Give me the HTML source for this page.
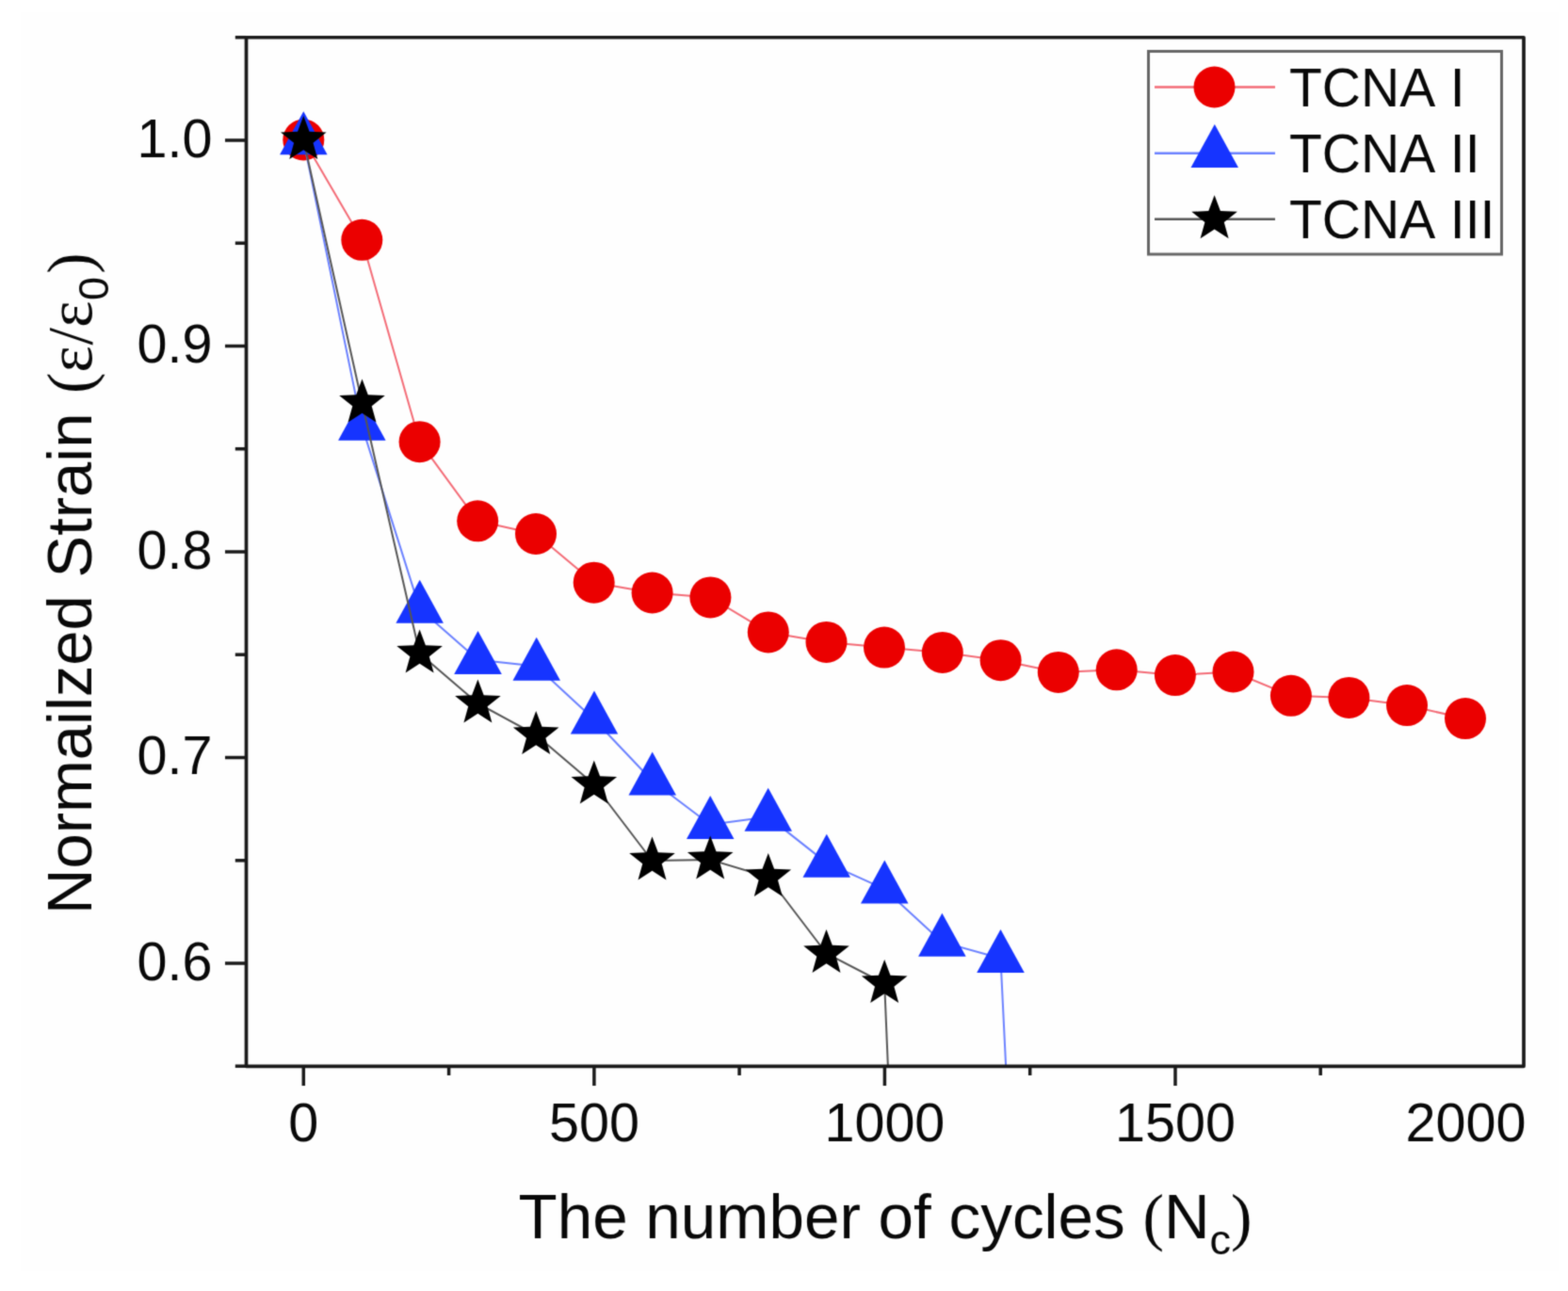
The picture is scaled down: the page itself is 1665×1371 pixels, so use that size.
<!DOCTYPE html>
<html><head><meta charset="utf-8"><title>Normalized strain vs number of cycles</title>
<style>html,body{margin:0;padding:0;background:#fff;}svg{display:block;}</style>
</head><body>
<svg width="1665" height="1371" viewBox="0 0 1665 1371">
<defs><filter id="sb" x="0" y="0" width="1" height="1" color-interpolation-filters="sRGB"><feConvolveMatrix order="3" kernelMatrix="0.0278 0.1111 0.0278 0.1111 0.4444 0.1111 0.0278 0.1111 0.0278" edgeMode="duplicate" preserveAlpha="true"/></filter></defs>
<g filter="url(#sb)">
<rect x="0" y="0" width="1665" height="1371" fill="#fff"/>
<rect x="22" y="13" width="1633" height="1337" fill="#fefefe"/>
<defs><clipPath id="pc"><rect x="261.5" y="39.75" width="1356.5" height="1092.55"/></clipPath></defs>
<polyline clip-path="url(#pc)" fill="none" stroke-linejoin="round" points="322.3,148.5 384.3,254.8 445.6,469.2 507.2,553.3 569.0,567.0 630.7,618.7 692.6,629.5 754.4,634.4 815.8,671.4 877.5,681.9 939.0,687.6 1000.8,692.9 1062.6,701.2 1123.8,713.9 1185.7,711.3 1247.9,717.1 1309.5,713.5 1370.9,738.8 1432.4,740.9 1494.0,749.1 1556.0,763.1" stroke="#f36a75" stroke-width="2"/>
<g fill="#eb0000"><circle cx="322.3" cy="148.5" r="22"/><circle cx="384.3" cy="254.8" r="22"/><circle cx="445.6" cy="469.2" r="22"/><circle cx="507.2" cy="553.3" r="22"/><circle cx="569.0" cy="567.0" r="22"/><circle cx="630.7" cy="618.7" r="22"/><circle cx="692.6" cy="629.5" r="22"/><circle cx="754.4" cy="634.4" r="22"/><circle cx="815.8" cy="671.4" r="22"/><circle cx="877.5" cy="681.9" r="22"/><circle cx="939.0" cy="687.6" r="22"/><circle cx="1000.8" cy="692.9" r="22"/><circle cx="1062.6" cy="701.2" r="22"/><circle cx="1123.8" cy="713.9" r="22"/><circle cx="1185.7" cy="711.3" r="22"/><circle cx="1247.9" cy="717.1" r="22"/><circle cx="1309.5" cy="713.5" r="22"/><circle cx="1370.9" cy="738.8" r="22"/><circle cx="1432.4" cy="740.9" r="22"/><circle cx="1494.0" cy="749.1" r="22"/><circle cx="1556.0" cy="763.1" r="22"/></g>
<polyline clip-path="url(#pc)" fill="none" stroke-linejoin="round" points="322.3,149.0 384.3,452.4 445.7,646.4 507.5,700.7 569.7,707.4 631.0,764.3 692.7,829.2 754.2,875.7 815.7,867.4 877.8,916.4 939.3,944.2 1000.4,1000.4 1062.5,1017.7 1068.5,1140.0" stroke="#6a80ff" stroke-width="2"/>
<g fill="#1634ff"><polygon points="322.3,118.3 347.6,164.3 297.1,164.3"/><polygon points="384.3,421.7 409.6,467.7 359.1,467.7"/><polygon points="445.7,615.7 470.9,661.7 420.4,661.7"/><polygon points="507.5,670.0 532.8,716.0 482.2,716.0"/><polygon points="569.7,676.7 595.0,722.7 544.5,722.7"/><polygon points="631.0,733.6 656.2,779.6 605.8,779.6"/><polygon points="692.7,798.5 718.0,844.5 667.5,844.5"/><polygon points="754.2,845.0 779.5,891.0 729.0,891.0"/><polygon points="815.7,836.7 841.0,882.7 790.5,882.7"/><polygon points="877.8,885.7 903.0,931.7 852.5,931.7"/><polygon points="939.3,913.5 964.5,959.5 914.0,959.5"/><polygon points="1000.4,969.7 1025.7,1015.7 975.1,1015.7"/><polygon points="1062.5,987.0 1087.8,1033.0 1037.2,1033.0"/></g>
<polyline clip-path="url(#pc)" fill="none" stroke-linejoin="round" points="322.3,148.5 384.5,428.0 445.6,694.0 507.4,747.0 569.2,780.5 630.8,833.0 692.5,914.0 754.2,913.0 815.8,931.5 877.5,1012.5 939.2,1044.5 943.2,1140.0" stroke="#555" stroke-width="2"/>
<g fill="#000"><polygon points="322.3,123.0 328.6,139.8 346.6,140.6 332.5,151.8 337.3,169.1 322.3,159.2 307.3,169.1 312.1,151.8 298.0,140.6 316.0,139.8"/><polygon points="384.5,402.5 390.8,419.3 408.8,420.1 394.7,431.3 399.5,448.6 384.5,438.7 369.5,448.6 374.3,431.3 360.2,420.1 378.2,419.3"/><polygon points="445.6,668.5 451.9,685.3 469.9,686.1 455.8,697.3 460.6,714.6 445.6,704.7 430.6,714.6 435.4,697.3 421.3,686.1 439.3,685.3"/><polygon points="507.4,721.5 513.7,738.3 531.7,739.1 517.6,750.3 522.4,767.6 507.4,757.7 492.4,767.6 497.2,750.3 483.1,739.1 501.1,738.3"/><polygon points="569.2,755.0 575.5,771.8 593.5,772.6 579.4,783.8 584.2,801.1 569.2,791.2 554.2,801.1 559.0,783.8 544.9,772.6 562.9,771.8"/><polygon points="630.8,807.5 637.1,824.3 655.1,825.1 641.0,836.3 645.8,853.6 630.8,843.7 615.8,853.6 620.6,836.3 606.5,825.1 624.5,824.3"/><polygon points="692.5,888.5 698.8,905.3 716.8,906.1 702.7,917.3 707.5,934.6 692.5,924.7 677.5,934.6 682.3,917.3 668.2,906.1 686.2,905.3"/><polygon points="754.2,887.5 760.5,904.3 778.5,905.1 764.4,916.3 769.2,933.6 754.2,923.7 739.2,933.6 744.0,916.3 729.9,905.1 747.9,904.3"/><polygon points="815.8,906.0 822.1,922.8 840.1,923.6 826.0,934.8 830.8,952.1 815.8,942.2 800.8,952.1 805.6,934.8 791.5,923.6 809.5,922.8"/><polygon points="877.5,987.0 883.8,1003.8 901.8,1004.6 887.7,1015.8 892.5,1033.1 877.5,1023.2 862.5,1033.1 867.3,1015.8 853.2,1004.6 871.2,1003.8"/><polygon points="939.2,1019.0 945.5,1035.8 963.5,1036.6 949.4,1047.8 954.2,1065.1 939.2,1055.2 924.2,1065.1 929.0,1047.8 914.9,1036.6 932.9,1035.8"/></g>
<rect x="261.5" y="39.75" width="1356.5" height="1092.55" stroke="#1a1a1a" stroke-width="3.7" fill="none" stroke-linejoin="round"/>
<g stroke="#1a1a1a" stroke-width="3.5" fill="none">
<line x1="249.8" y1="1132.2" x2="261.5" y2="1132.2"/>
<line x1="239" y1="1023.0" x2="261.5" y2="1023.0"/>
<line x1="249.8" y1="913.8" x2="261.5" y2="913.8"/>
<line x1="239" y1="804.5" x2="261.5" y2="804.5"/>
<line x1="249.8" y1="695.2" x2="261.5" y2="695.2"/>
<line x1="239" y1="586.0" x2="261.5" y2="586.0"/>
<line x1="249.8" y1="476.7" x2="261.5" y2="476.7"/>
<line x1="239" y1="367.5" x2="261.5" y2="367.5"/>
<line x1="249.8" y1="258.2" x2="261.5" y2="258.2"/>
<line x1="239" y1="149.0" x2="261.5" y2="149.0"/>
<line x1="249.8" y1="39.7" x2="261.5" y2="39.7"/>
<line x1="322.3" y1="1132.3" x2="322.3" y2="1153"/>
<line x1="476.6" y1="1132.3" x2="476.6" y2="1142"/>
<line x1="630.9" y1="1132.3" x2="630.9" y2="1153"/>
<line x1="785.1" y1="1132.3" x2="785.1" y2="1142"/>
<line x1="939.4" y1="1132.3" x2="939.4" y2="1153"/>
<line x1="1093.7" y1="1132.3" x2="1093.7" y2="1142"/>
<line x1="1248.0" y1="1132.3" x2="1248.0" y2="1153"/>
<line x1="1402.2" y1="1132.3" x2="1402.2" y2="1142"/>
</g>
<g font-family="Liberation Sans, Arial, sans-serif" font-size="57.5" fill="#080808" text-anchor="end">
<text x="225.5" y="166.5">1.0</text>
<text x="225.5" y="385.0">0.9</text>
<text x="225.5" y="603.5">0.8</text>
<text x="225.5" y="822.0">0.7</text>
<text x="225.5" y="1040.5">0.6</text>
</g>
<g font-family="Liberation Sans, Arial, sans-serif" font-size="57.5" fill="#080808" text-anchor="middle">
<text x="322.3" y="1212.3">0</text>
<text x="630.9" y="1212.3">500</text>
<text x="939.4" y="1212.3">1000</text>
<text x="1248.0" y="1212.3">1500</text>
<text x="1556.5" y="1212.3">2000</text>
</g>
<text font-family="Liberation Sans, Arial, sans-serif" font-size="67.4" fill="#080808" x="550.5" y="1315.3">The number of cycles <tspan font-family="Liberation Serif, serif">(</tspan>N<tspan font-size="45" dy="17">c</tspan><tspan dy="-17" font-family="Liberation Serif, serif">)</tspan></text>
<text font-family="Liberation Sans, Arial, sans-serif" font-size="67" fill="#080808" transform="translate(97,971) rotate(-90)" x="0" y="0">Normailzed Strain <tspan font-family="Liberation Serif, serif" dx="2">(</tspan><tspan font-family="Liberation Serif, serif" dx="0">ε</tspan><tspan font-family="Liberation Serif, serif" dx="1">/</tspan><tspan font-family="Liberation Serif, serif">ε</tspan><tspan font-size="45" dy="18" dx="0.6">0</tspan><tspan dy="-18" dx="3.4" font-family="Liberation Serif, serif">)</tspan></text>
<rect x="1219.5" y="54.5" width="375" height="215.5" fill="none" stroke="#666" stroke-width="3"/>
<line x1="1226" y1="92.5" x2="1354" y2="92.5" stroke="#f36a75" stroke-width="2.5"/>
<line x1="1226" y1="162.7" x2="1354" y2="162.7" stroke="#6a80ff" stroke-width="2.5"/>
<line x1="1226" y1="232.7" x2="1354" y2="232.7" stroke="#555" stroke-width="2.5"/>
<circle cx="1289.5" cy="92.5" r="22" fill="#eb0000"/>
<polygon points="1289.8,132.0 1315.0,178.0 1264.5,178.0" fill="#1634ff"/>
<polygon points="1289.6,207.2 1295.9,224.0 1313.9,224.8 1299.8,236.0 1304.6,253.3 1289.6,243.4 1274.6,253.3 1279.4,236.0 1265.3,224.8 1283.3,224.0" fill="#000"/>
<g font-family="Liberation Sans, Arial, sans-serif" font-size="57" fill="#080808" word-spacing="3">
<text x="1369" y="112.5">TCNA I</text>
<text x="1369" y="182.7">TCNA II</text>
<text x="1369" y="252.7">TCNA III</text>
</g>
</g>
</svg>
</body></html>
